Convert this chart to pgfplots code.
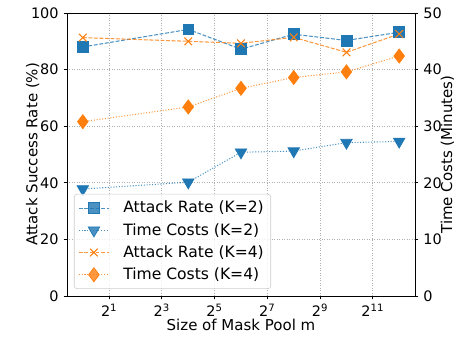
\documentclass[border=0pt]{standalone}
\usepackage{fontspec}
\setmainfont{DejaVu Sans}
\usepackage{pgfplots}
\pgfplotsset{compat=1.18}
\definecolor{tabblue}{RGB}{31,119,180}
\definecolor{taborange}{RGB}{255,127,14}
\definecolor{gridgray}{RGB}{176,176,176}
\pgfplotsset{
 myaxisbase/.style={
  scale only axis, width=250.56pt, height=203.76pt,
  xmin=0.6598, xmax=6208,
  tick align=outside, major tick length=2.5pt,
  tick style={black, line width=0.6pt},
  axis line style={line width=0.6pt},
  ticklabel style={font=\fontsize{10.4}{12}\selectfont},
  label style={font=\fontsize{10.8}{13}\selectfont},
  /pgf/number format/assume math mode=true,
  ymin=0,
 },
}
\tikzset{
 atkA/.style={tabblue, line width=0.75pt, dash pattern=on 2.8pt off 1.2pt, draw opacity=0.8,
   mark=square*, mark size=3.9pt, mark options={solid, draw opacity=1, fill=tabblue, line width=0.5pt}},
 timA/.style={tabblue, line width=0.75pt, dash pattern=on 0.75pt off 1.25pt, draw opacity=0.8,
   mark=triangle*, mark size=4.8pt, mark options={solid, rotate=180, draw opacity=1, fill=tabblue, line width=0.5pt}},
 atkB/.style={taborange, line width=0.75pt, dash pattern=on 2.8pt off 1.2pt, draw opacity=0.8,
   mark=x, mark size=3.9pt, mark options={solid, draw opacity=1, line width=0.75pt}},
 timB/.style={taborange, line width=0.75pt, dash pattern=on 0.75pt off 1.25pt, draw opacity=0.8,
   mark=diamond*, mark size=5.1pt, mark options={solid, draw opacity=1, fill=taborange, line width=0.5pt}},
}
\begin{document}
\begin{tikzpicture}
\begin{axis}[xmode=log, log basis x=2, myaxisbase,
  ymax=100, ytick={0,20,40,60,80,100},
  xtick={2,8,32,128,512,2048},
  xticklabels={2\textsuperscript{1},2\textsuperscript{3},2\textsuperscript{5},2\textsuperscript{7},2\textsuperscript{9},2\textsuperscript{11}},
  xtick pos=left, ytick pos=left,
  grid=major, grid style={gridgray, dash pattern=on 0.7pt off 1.1pt, line width=0.6pt},
  xlabel={Size of Mask Pool m},
  ylabel={Attack Success Rate (\%)},
  xlabel style={at={(axis description cs:0.5,0)}, anchor=base, yshift=-25pt},
  ylabel style={at={(axis description cs:0,0.5)}, anchor=center, yshift=24.7pt},
]
\addplot[atkA] coordinates {(1,88.0) (16,94.2) (64,87.2) (256,92.5) (1024,90.3) (4096,93.2)};
\addplot[atkB] coordinates {(1,91.3) (16,90.0) (64,89.3) (256,91.4) (1024,86.1) (4096,92.6)};
\end{axis}
\begin{axis}[xmode=log, log basis x=2, myaxisbase,
  ymax=50, ytick={0,10,20,30,40,50},
  hide x axis, axis y line*=right,
  ylabel={Time Costs (Minutes)},
  ylabel style={at={(axis description cs:1,0.5)}, anchor=center, yshift=-23.4pt},
  legend style={at={(0.02,0.025)}, anchor=south west, draw=gray!40, rounded corners=2pt,
    fill=white, fill opacity=0.8, text opacity=1, font=\fontsize{11.2}{13}\selectfont,
    inner xsep=3pt, inner ysep=3pt, row sep=2pt,
    /tikz/every odd column/.append style={column sep=8pt}},
  legend cell align=left,
  legend image code/.code={\draw[mark repeat=2, mark phase=2, #1] plot coordinates {(0pt,0pt) (10.8pt,0pt) (21.6pt,0pt)};},
]
\addlegendimage{atkA}
\addlegendentry{Attack Rate (K=2)}
\addplot[timA] coordinates {(1,18.9) (16,20.1) (64,25.4) (256,25.6) (1024,27.1) (4096,27.3)};
\addlegendentry{Time Costs (K=2)}
\addlegendimage{atkB}
\addlegendentry{Attack Rate (K=4)}
\addplot[timB] coordinates {(1,30.8) (16,33.4) (64,36.7) (256,38.6) (1024,39.6) (4096,42.4)};
\addlegendentry{Time Costs (K=4)}
\end{axis}
\pgfresetboundingbox
\path[use as bounding box] (-48.24pt,-28.8pt) rectangle (282.24pt,213.12pt);
\end{tikzpicture}
\end{document}
